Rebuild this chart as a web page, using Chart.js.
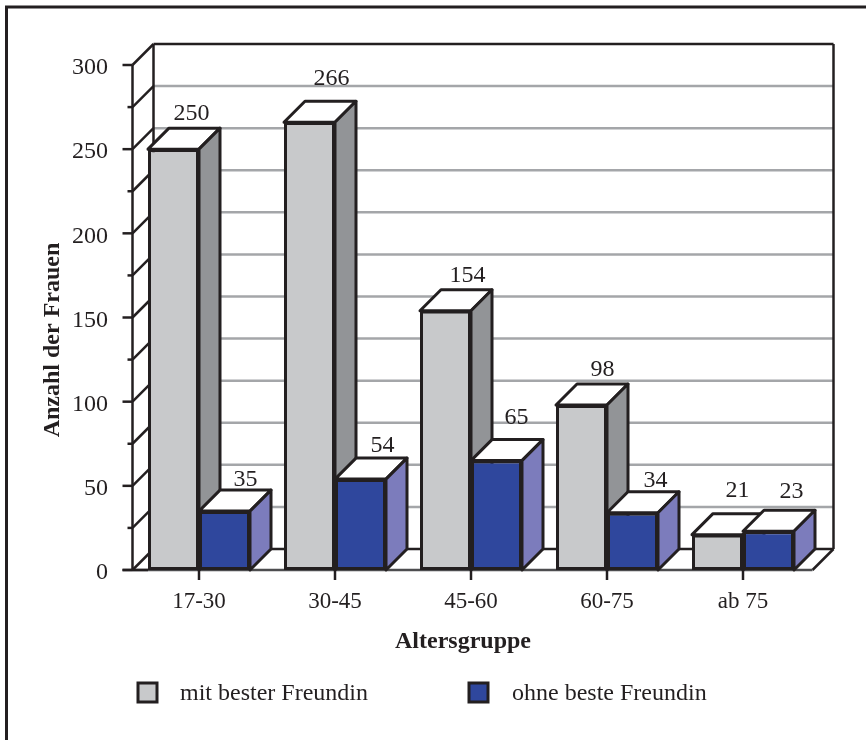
<!DOCTYPE html>
<html>
<head>
<meta charset="utf-8">
<title>Anzahl der Frauen nach Altersgruppe</title>
<script src="https://cdn.jsdelivr.net/npm/chart.js@4"></script>
<style>
    html, body { margin: 0; padding: 0; background: #fff; overflow: hidden; }
    #myChart { display: block; }
</style>
</head>
<body>
<canvas id="myChart" width="866" height="740"></canvas>
<script>
const categories = ['17-30', '30-45', '45-60', '60-75', 'ab 75'];
const mitFreundin = [250, 266, 154, 98, 21];
const ohneFreundin = [35, 54, 65, 34, 23];
const seriesNames = ['mit bester Freundin', 'ohne beste Freundin'];
const xTitle = 'Altersgruppe';
const yTitle = 'Anzahl der Frauen';

const INK = '#231f20';
const GRID = '#a4a6a9';
const SERIF = '"Liberation Serif", serif';
const DEPTH = 21;   // how far the back wall sits behind the front plane

// side face colour for each bar colour
const sideColors = { '#c8c9cb': '#929497', '#2f479d': '#7c7cbc' };

// hand placement of the value labels, per series
const labelGaps = [[8, 16, 8, 8, 17], [4, 6, 16, 5, 12]];
const labelShifts = [[-2, 2, 2, 1, 0], [1, 2, 0, 3, 3]];

function line(ctx, x1, y1, x2, y2, color, width) {
    ctx.beginPath();
    ctx.moveTo(x1, y1);
    ctx.lineTo(x2, y2);
    ctx.strokeStyle = color;
    ctx.lineWidth = width;
    ctx.stroke();
}

function face(ctx, points, fill) {
    ctx.beginPath();
    points.forEach((p, i) => i ? ctx.lineTo(p[0], p[1]) : ctx.moveTo(p[0], p[1]));
    ctx.closePath();
    ctx.fillStyle = fill;
    ctx.fill();
    ctx.strokeStyle = INK;
    ctx.lineWidth = 3;
    ctx.lineJoin = 'round';
    ctx.stroke();
}

// frame, back wall, floor, axis ticks and the top and side faces of the bars
const wallPlugin = {
    id: 'wall',
    beforeDatasetsDraw(chart) {
        const { ctx, chartArea: a, scales: { x, y } } = chart;
        const left = a.left + 1.5;
        const right = a.right + 1.5;
        const bottom = y.getPixelForValue(0);
        const top = y.getPixelForValue(300);
        ctx.save();
        ctx.lineCap = 'butt';

        line(ctx, 6.5, 740, 6.5, 7, INK, 3);
        line(ctx, 5, 7, 866, 7, INK, 3);

        y.ticks.forEach(t => {
            const py = y.getPixelForValue(t.value);
            if (t.value > 0 && t.value < 300) line(ctx, left + DEPTH, py - DEPTH, right + DEPTH, py - DEPTH, GRID, 2.5);
        });
        line(ctx, left + DEPTH, bottom - DEPTH, right + DEPTH, bottom - DEPTH, INK, 2.5);
        line(ctx, left + DEPTH, top - DEPTH, right + DEPTH, top - DEPTH, INK, 2.5);
        line(ctx, left + DEPTH, top - DEPTH, left + DEPTH, bottom - DEPTH, INK, 2.5);
        line(ctx, right + DEPTH, top - DEPTH, right + DEPTH, bottom - DEPTH, INK, 2.5);
        line(ctx, right, bottom, right + DEPTH, bottom - DEPTH, INK, 2.5);
        line(ctx, left, bottom, right, bottom, '#4d4d4f', 2.5);

        y.ticks.forEach(t => {
            const py = y.getPixelForValue(t.value);
            line(ctx, left, py, left + DEPTH, py - DEPTH, INK, 2.5);
            line(ctx, left - (t.value % 50 === 0 ? 10 : 5), py, left, py, INK, 2.5);
        });
        line(ctx, left, top, left, bottom, INK, 2.5);
        line(ctx, left - 10, bottom, a.left + 17, bottom, INK, 2.5);

        categories.forEach((c, i) => {
            const px = x.getPixelForValue(i);
            line(ctx, px, bottom, px, bottom + 10, INK, 2.5);
        });

        // grey series first so the blue boxes sit in front of its side faces
        chart.data.datasets.forEach((ds, d) => {
            chart.getDatasetMeta(d).data.forEach(bar => {
                const l = bar.x - bar.width / 2;
                const r = bar.x + bar.width / 2;
                face(ctx, [[l, bar.y], [l + DEPTH, bar.y - DEPTH], [r + DEPTH, bar.y - DEPTH], [r, bar.y]], '#fff');
                face(ctx, [[r, bar.y], [r + DEPTH, bar.y - DEPTH], [r + DEPTH, bar.base - DEPTH], [r, bar.base]], sideColors[ds.backgroundColor]);
            });
        });
        ctx.restore();
    },
    afterDatasetsDraw(chart) {
        const { ctx } = chart;
        ctx.save();
        ctx.fillStyle = INK;
        ctx.textAlign = 'center';
        ctx.textBaseline = 'alphabetic';

        // value labels above each bar
        ctx.font = '24px ' + SERIF;
        chart.data.datasets.forEach((ds, d) => {
            chart.getDatasetMeta(d).data.forEach((bar, i) => {
                ctx.fillText(ds.data[i], bar.x + DEPTH - 1 + labelShifts[d][i], bar.y - DEPTH - labelGaps[d][i]);
            });
        });

        // axis titles sit off-centre, so they are placed here and not by the scales
        ctx.font = 'bold 24px ' + SERIF;
        ctx.fillText(xTitle, 463, 648);
        ctx.save();
        ctx.translate(59, 340);
        ctx.rotate(-Math.PI / 2);
        ctx.fillText(yTitle, 0, 0);
        ctx.restore();

        // legend row
        ctx.font = '24px ' + SERIF;
        const keys = [138, 469];
        const textX = [180, 512];
        chart.data.datasets.forEach((ds, d) => {
            ctx.fillStyle = ds.backgroundColor;
            ctx.fillRect(keys[d], 683, 19, 19);
            ctx.strokeStyle = INK;
            ctx.lineWidth = 3;
            ctx.strokeRect(keys[d], 683, 19, 19);
            ctx.fillStyle = INK;
            ctx.textAlign = 'left';
            ctx.fillText(ds.label, textX[d], 700);
        });
        ctx.restore();
    }
};

const myChart = new Chart(document.getElementById('myChart').getContext('2d'), {
    type: 'bar',
    data: {
        labels: categories,
        datasets: [
            { label: seriesNames[0], data: mitFreundin, backgroundColor: '#c8c9cb' },
            { label: seriesNames[1], data: ohneFreundin, backgroundColor: '#2f479d' }
        ]
    },
    options: {
        responsive: false,
        animation: false,
        events: [],
        layout: { padding: { left: 41, right: 55, top: 65, bottom: 85 } },
        datasets: {
            bar: {
                categoryPercentage: 0.75,
                barPercentage: 1,
                borderColor: INK,
                borderWidth: 3,
                borderSkipped: false
            }
        },
        plugins: {
            legend: { display: false },
            tooltip: { enabled: false }
        },
        scales: {
            x: {
                grid: { display: false },
                border: { display: false },
                ticks: { color: INK, font: { family: SERIF, size: 23 }, padding: 10, maxRotation: 0 },
                afterFit(scale) { scale.height = 85; }
            },
            y: {
                min: 0,
                max: 300,
                grid: { display: false },
                border: { display: false },
                ticks: {
                    stepSize: 25,
                    color: INK,
                    font: { family: SERIF, size: 24 },
                    padding: 15,
                    labelOffset: 3,
                    callback: v => (v % 50 === 0 ? v : '')
                },
                afterFit(scale) { scale.width = 90; }
            }
        }
    },
    plugins: [wallPlugin]
});
</script>
</body>
</html>
